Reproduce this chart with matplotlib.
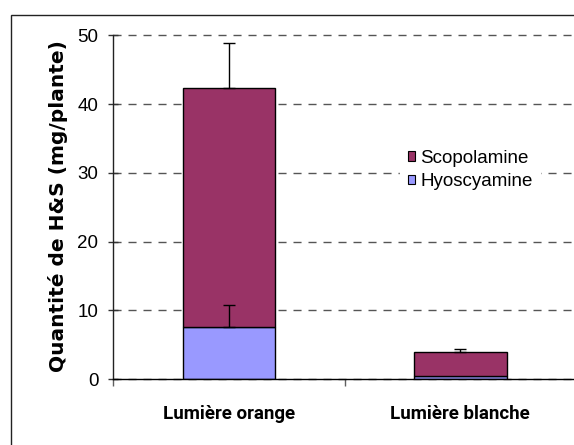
import matplotlib
matplotlib.use("Agg")
import matplotlib.pyplot as plt
from matplotlib.patches import Rectangle, Patch
import numpy as np

plt.rcParams['font.family'] = ['Liberation Sans', 'DejaVu Sans']

categories = ["Lumière orange", "Lumière blanche"]
hyoscyamine = np.array([7.5, 0.5])
scopolamine = np.array([34.9, 3.4])
hyos_err = np.array([3.2, 0.0])
total_err = np.array([6.5, 0.5])
yticks = [0, 10, 20, 30, 40, 50]
series_names = ["Scopolamine", "Hyoscyamine"]

col_scop = "#993366"
col_hyos = "#9999FF"

W, H = 574, 445
fig = plt.figure(figsize=(W / 100, H / 100), dpi=100)

# outer frame (partly cut by figure edge)
fig.patches.append(Rectangle((11 / W, -0.1), 1.2, (H - 15) / H + 0.1,
                             transform=fig.transFigure, fill=False,
                             edgecolor="#222222", linewidth=1.0))

ax = fig.add_axes([113.3 / W, (H - 379) / H, (576 - 113.3) / W, (379 - 35.3) / H])

x = np.arange(len(categories))
w = 0.4
ax.bar(x, hyoscyamine, w, color=col_hyos, edgecolor="black", linewidth=1.0, zorder=2)
ax.bar(x, scopolamine, w, bottom=hyoscyamine, color=col_scop, edgecolor="black",
       linewidth=1.0, zorder=2)

totals = hyoscyamine + scopolamine
m1 = hyos_err > 0
ax.errorbar(x[m1], hyoscyamine[m1], yerr=[np.zeros(m1.sum()), hyos_err[m1]], fmt='none',
            ecolor='black', elinewidth=1.0, capsize=4, capthick=1.0, zorder=3)
m2 = total_err > 0
ax.errorbar(x[m2], totals[m2], yerr=[np.zeros(m2.sum()), total_err[m2]], fmt='none',
            ecolor='black', elinewidth=1.0, capsize=4, capthick=1.0, zorder=3)

ax.set_xlim(-0.5, 1.5)
ax.set_ylim(0, 50)
ax.set_yticks(yticks)
ax.set_yticklabels([str(t) for t in yticks], fontsize=13.5)
ax.tick_params(axis='y', direction='inout', length=7.2, width=1.0, pad=7.2, color='#333333')

ax.set_xticks([-0.5, 0.5, 1.5])
ax.set_xticklabels([])
ax.set_xticks(x, minor=True)
ax.set_xticklabels(categories, minor=True,
                   fontdict={'family': ['Roboto', 'Liberation Sans'], 'weight': 'bold',
                             'size': 13.5})
ax.tick_params(axis='x', which='major', direction='out', length=5, width=1.0, color='#606060')
ax.tick_params(axis='x', which='minor', length=0, pad=18.5)

for s in ['top', 'right']:
    ax.spines[s].set_visible(False)
ax.spines['left'].set_color('#222222')
ax.spines['bottom'].set_color('black')
ax.spines['left'].set_linewidth(1.0)
ax.spines['bottom'].set_linewidth(1.0)

ax.set_axisbelow(True)
ax.yaxis.grid(True, color='#555555', linewidth=1.0, linestyle=(0, (5.8, 5.0)))
for gl in ax.get_ygridlines():
    gl.set_clip_on(False)

ax.set_ylabel("Quantité de H&S (mg/plante)", fontsize=14.5, fontweight='bold',
              family=['DejaVu Sans'])
ax.yaxis.label.set_verticalalignment('center')
ax.yaxis.set_label_coords((58 - 113.3) / (576 - 113.3), (379 - 206) / (379 - 35.3))

handles = [Patch(facecolor=col_scop, edgecolor='black', linewidth=0.8),
           Patch(facecolor=col_hyos, edgecolor='black', linewidth=0.8)]
leg = ax.legend(handles, series_names, loc='upper left',
                bbox_to_anchor=(400 / W, 1 - 142 / H), bbox_transform=fig.transFigure,
                fontsize=13.5, frameon=True, fancybox=False, framealpha=1,
                facecolor='white', edgecolor='white', borderpad=0.4, borderaxespad=0,
                handlelength=0.4, handleheight=0.4, handletextpad=0.28, labelspacing=0.36)

fig.savefig("out.png", dpi=100)
